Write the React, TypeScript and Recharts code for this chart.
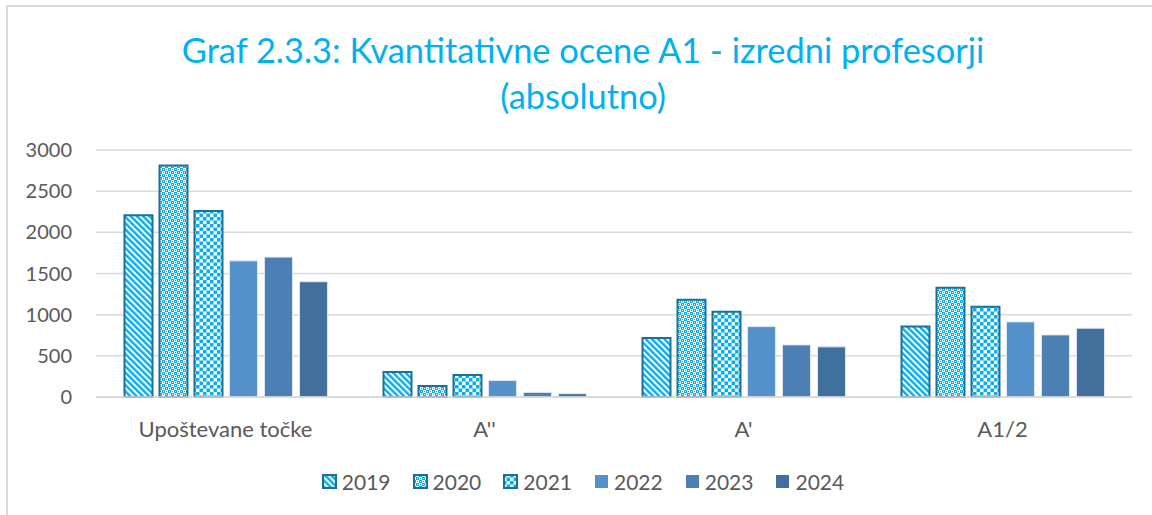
import { Bar, BarChart, CartesianGrid, Legend, XAxis, YAxis } from 'recharts';

const categories = ['Upoštevane točke', "A''", "A'", 'A1/2'];
const years = ['2019', '2020', '2021', '2022', '2023', '2024'];

const v2019 = [2207, 303, 718, 855];
const v2020 = [2812, 133, 1180, 1327];
const v2021 = [2259, 266, 1036, 1097];
const v2022 = [1654, 201, 855, 912];
const v2023 = [1699, 56, 633, 754];
const v2024 = [1400, 40, 609, 835];

const yTicks = [0, 500, 1000, 1500, 2000, 2500, 3000];

const seriesValues = [v2019, v2020, v2021, v2022, v2023, v2024];

const data = categories.map((name, i) => {
  const row: Record<string, string | number> = { name };
  years.forEach((y, j) => {
    row[y] = seriesValues[j][i];
  });
  return row;
});

const cyan = '#00b0f0';
const patternStroke = '#1a7099';

const fills: Record<string, string> = {
  '2019': 'url(#p2019)',
  '2020': 'url(#p2020)',
  '2021': 'url(#p2021)',
  '2022': '#5592cb',
  '2023': '#4c80b4',
  '2024': '#42709d',
};

const isPattern = (y: string) => y === '2019' || y === '2020' || y === '2021';

const font = 'Lato, "Open Sans", sans-serif';

function Patterns() {
  return (
    <svg width={0} height={0} style={{ position: 'absolute' }}>
      <defs>
        <pattern
          id="p2019"
          width={4.4}
          height={4.4}
          patternUnits="userSpaceOnUse"
          patternTransform="rotate(-45)"
        >
          <rect width={4.4} height={4.4} fill="#fff" />
          <rect width={2.4} height={4.4} fill={cyan} />
        </pattern>
        <pattern id="p2020" width={6} height={6} patternUnits="userSpaceOnUse">
          <rect width={6} height={6} fill="#fff" />
          <rect x={0} y={0} width={3} height={3} fill={cyan} />
          <rect x={3} y={3} width={3} height={3} fill={cyan} />
          <rect x={1} y={1} width={1} height={1} fill="#fff" />
          <rect x={4} y={4} width={1} height={1} fill="#fff" />
          <rect x={4} y={1} width={1} height={1} fill={cyan} />
          <rect x={1} y={4} width={1} height={1} fill={cyan} />
        </pattern>
        <pattern id="p2021" width={7} height={7} patternUnits="userSpaceOnUse">
          <rect width={7} height={7} fill="#fff" />
          <rect x={0} y={0} width={3.5} height={3.5} fill={cyan} />
          <rect x={3.5} y={3.5} width={3.5} height={3.5} fill={cyan} />
        </pattern>
      </defs>
    </svg>
  );
}

function LegendContent() {
  return (
    <div
      style={{
        display: 'flex',
        justifyContent: 'center',
        gap: 22,
        fontFamily: font,
        fontSize: 21,
        color: '#595959',
      }}
    >
      {years.map((y) => (
        <div key={y} style={{ display: 'flex', alignItems: 'center', gap: 5 }}>
          <svg width={15} height={15}>
            <rect
              x={1}
              y={1}
              width={13}
              height={13}
              fill={fills[y]}
              stroke={isPattern(y) ? patternStroke : 'none'}
              strokeWidth={2}
            />
          </svg>
          <span>{y}</span>
        </div>
      ))}
    </div>
  );
}

export default function App() {
  return (
    <div
      style={{
        position: 'absolute',
        left: 0,
        top: 0,
        width: 1152,
        height: 515,
        background: '#fff',
        overflow: 'hidden',
      }}
    >
      <Patterns />
      <div
        style={{
          position: 'absolute',
          left: 6,
          top: 5,
          width: 1170,
          height: 530,
          border: '2px solid #d9d9d9',
        }}
      />
      <div
        style={{
          position: 'absolute',
          left: 0,
          top: 27,
          width: 1166,
          textAlign: 'center',
          fontFamily: font,
          fontSize: 34.4,
          lineHeight: '46px',
          color: cyan,
        }}
      >
        Graf 2.3.3: Kvantitativne ocene A1 - izredni profesorji
        <br />
        (absolutno)
      </div>
      <div style={{ position: 'absolute', left: 0, top: 0 }}>
        <BarChart
          width={1152}
          height={515}
          data={data}
          margin={{ top: 150, right: 20, left: 0, bottom: 78 }}
          barCategoryGap="11%"
          barGap={7}
        >
          <CartesianGrid vertical={false} stroke="#d9d9d9" strokeWidth={1.5} />
          <XAxis
            dataKey="name"
            height={40}
            axisLine={{ stroke: '#d9d9d9', strokeWidth: 1.5 }}
            tickLine={false}
            tickSize={0}
            tickMargin={24}
            tick={{ fill: '#595959', fontSize: 22, fontFamily: font }}
          />
          <YAxis
            width={96}
            domain={[0, 3000]}
            ticks={yTicks}
            axisLine={false}
            tickLine={false}
            tickSize={0}
            tickMargin={24}
            tick={{ fill: '#595959', fontSize: 20, fontFamily: font }}
          />
          <Legend
            layout="horizontal"
            verticalAlign="middle"
            content={<LegendContent />}
            wrapperStyle={{ top: 469, left: 0, width: 1166 }}
          />
          {years.map((y) => (
            <Bar
              key={y}
              dataKey={y}
              fill={fills[y]}
              stroke={isPattern(y) ? patternStroke : '#dce6f2'}
              strokeWidth={isPattern(y) ? 2 : 1}
              isAnimationActive={false}
            />
          ))}
        </BarChart>
      </div>
    </div>
  );
}
